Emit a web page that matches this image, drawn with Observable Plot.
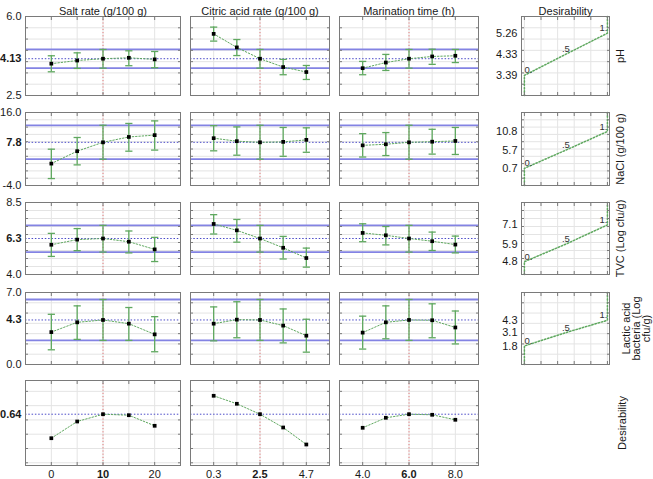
<!DOCTYPE html>
<html><head><meta charset="utf-8">
<script src="https://cdn.jsdelivr.net/npm/d3@7"></script>
<script src="https://cdn.jsdelivr.net/npm/@observablehq/plot@0.6"></script>
<style>
body{margin:0;background:#fff;}
#chart{position:relative;width:653px;height:479px;overflow:hidden;}
#chart svg{position:absolute;max-width:none;overflow:visible;}
</style></head><body><div id="chart"></div>
<script>
// ---------- data ----------
const factors = ["Salt rate (g/100 g)", "Citric acid rate (g/100 g)", "Marination time (h)"];
const desirabilityTitle = "Desirability";
const saltLevels = [0, 5, 10, 15, 20];
const citricLevels = [0.3, 1.4, 2.5, 3.6, 4.7];
const timeLevels = [4, 5, 6, 7, 8];
const factorTickLabels = [["0", "10", "20"], ["0.3", "2.5", "4.7"], ["4.0", "6.0", "8.0"]];
const responses = ["pH", "NaCl (g/100 g)", "TVC (Log cfu/g)", "Lactic acid\nbacteria (Log\ncfu/g)", "Desirability"];
const predicted = [4.13, 7.83, 6.25, 4.33, 0.64];
const predictedLabels = ["4.13", "7.8", "6.3", "4.3", "0.64"];
const ciLow = [3.71, 3.2, 5.40, 2.34];
const ciHigh = [4.54, 12.5, 7.07, 6.32];
const yDomains = [[2.5, 6.0], [-4, 16], [4, 8.5], [0, 7], [0.281, 0.876]];
const yEdgeLabels = [["2.5", "6.0"], ["-4.0", "16.0"], ["4.0", "8.5"], ["0.0", "7.0"]];
const yGridStep = [0.5, 2, 0.5, 1, 0.1];

// pH
const phMean = [[3.91, 4.05, 4.13, 4.17, 4.10], [5.23, 4.63, 4.13, 3.76, 3.54], [3.71, 3.96, 4.13, 4.23, 4.26]];
const phLow  = [[3.55, 3.70, 3.71, 3.82, 3.73], [4.91, 4.27, 3.71, 3.42, 3.21], [3.42, 3.61, 3.71, 3.88, 3.96]];
const phHigh = [[4.26, 4.39, 4.54, 4.48, 4.45], [5.53, 4.98, 4.54, 4.10, 3.83], [4.01, 4.32, 4.54, 4.55, 4.54]];
// NaCl
const naclMean = [[2.0, 5.4, 7.83, 9.3, 9.8], [8.96, 8.14, 7.83, 7.95, 8.5], [7.0, 7.3, 7.83, 8.0, 8.2]];
const naclLow  = [[-2.1, 1.65, 3.2, 5.4, 5.7], [5.5, 4.3, 3.2, 4.0, 5.1], [3.8, 4.2, 3.2, 4.6, 4.5]];
const naclHigh = [[5.95, 9.15, 12.5, 13.0, 13.7], [12.4, 12.05, 12.5, 11.9, 11.8], [10.2, 10.5, 12.5, 11.4, 11.9]];
// TVC
const tvcMean = [[5.86, 6.18, 6.25, 6.05, 5.57], [7.16, 6.76, 6.25, 5.67, 5.03], [6.60, 6.45, 6.25, 6.08, 5.87]];
const tvcLow  = [[5.13, 5.49, 5.40, 5.35, 4.81], [6.53, 6.02, 5.40, 4.97, 4.46], [6.05, 5.85, 5.40, 5.50, 5.35]];
const tvcHigh = [[6.57, 6.87, 7.07, 6.72, 6.32], [7.74, 7.44, 7.07, 6.38, 5.65], [7.17, 7.00, 7.07, 6.65, 6.40]];
// Lactic acid bacteria
const labMean = [[3.15, 4.10, 4.33, 3.97, 2.93], [3.97, 4.36, 4.33, 3.78, 2.80], [3.10, 4.10, 4.33, 4.30, 3.60]];
const labLow  = [[1.43, 2.44, 2.34, 2.34, 1.24], [2.30, 2.60, 2.34, 2.10, 1.20], [1.50, 2.50, 2.34, 2.60, 2.00]];
const labHigh = [[4.88, 5.70, 6.32, 5.54, 4.65], [5.60, 6.10, 6.32, 5.40, 4.40], [4.70, 5.70, 6.32, 5.90, 5.20]];
// Overall desirability
const desirability = [[0.472, 0.589, 0.64, 0.633, 0.559], [0.769, 0.713, 0.64, 0.547, 0.428], [0.545, 0.615, 0.64, 0.636, 0.601]];

// desirability functions (response value at d = 0, .5, 1)
const desLevels = [0, 0.5, 1];
const desLevelLabels = ["0.", ".5", "1."];
const desZero = [3.39, 0.7, 4.8, 1.8];
const desHalf = [4.33, 5.7, 5.9, 3.1];
const desOne  = [5.26, 10.8, 7.1, 4.3];
const desValueLabels = [["3.39", "4.33", "5.26"], ["0.7", "5.7", "10.8"], ["4.8", "5.9", "7.1"], ["1.8", "3.1", "4.3"]];

// ---------- layout / style ----------
const levels = [saltLevels, citricLevels, timeLevels];
const means = [phMean, naclMean, tvcMean, labMean, desirability];
const lows = [phLow, naclLow, tvcLow, labLow];
const highs = [phHigh, naclHigh, tvcHigh, labHigh];
const colX = [[25, 180], [190, 329], [339, 478], [521, 609]];
const rowY = [[16, 95], [112, 185], [202, 274], [292, 364], [380, 465]];
const xDomains = [[-5, 25], [-0.8, 5.8], [3, 9], [-0.035, 1.025]];
const rightLabelDx = [11, 11, 11, 27, 13];
const FONT = "'Liberation Sans', Arial, sans-serif";
const GRID = "#e4e4e4", FRAME = "#7a7a7a", BLUE = "#8383e3", BLUED = "#4b4bc8", RED = "#e37b7b", GREEN = "#5fa85f", TXT = "#1a1a1a";
const M = 40;

const chart = document.getElementById("chart");

function yTicks(r) {
  const [a, b] = yDomains[r];
  const s = yGridStep[r];
  return d3.range(Math.ceil(a / s - 1e-9) * s, b + 1e-9, s);
}

const capSymbol = {draw(ctx, size) { const w = Math.sqrt(size / Math.PI); ctx.moveTo(-w, 0); ctx.lineTo(w, 0); }};

function place(svg, c, r) {
  svg.style.left = (colX[c][0] - M) + "px";
  svg.style.top = (rowY[r][0] - M) + "px";
  chart.appendChild(svg);
}

function innerTicks(xt, yt) {
  const o = {tickSize: -3, tickFormat: () => "", label: null, stroke: FRAME};
  return [
    Plot.axisX({...o, anchor: "top", ticks: xt}),
    Plot.axisX({...o, anchor: "bottom", ticks: xt}),
    Plot.axisY({...o, anchor: "left", ticks: yt}),
    Plot.axisY({...o, anchor: "right", ticks: yt})
  ];
}

function rightLabel(r) {
  return Plot.text([responses[r]], {frameAnchor: "right", textAnchor: "middle", lineAnchor: "middle", dx: rightLabelDx[r],
    rotate: -90, fontSize: 11, lineHeight: 0.92, fill: TXT});
}

function mainPanel(r, c) {
  const lv = levels[c];
  const data = lv.map((x, i) => ({x, m: means[r][c][i], lo: r < 4 ? lows[r][c][i] : null, hi: r < 4 ? highs[r][c][i] : null}));
  const yt = yTicks(r);
  const marks = [
    Plot.gridY({ticks: yt, stroke: GRID, strokeOpacity: 1}),
    Plot.gridX({ticks: lv, stroke: GRID, strokeOpacity: 1}),
    Plot.ruleX([lv[2]], {stroke: RED, strokeDasharray: "1.2,2"})
  ];
  if (r < 4) marks.push(Plot.ruleY([ciLow[r], ciHigh[r]], {stroke: BLUE, strokeWidth: 1.8}));
  marks.push(Plot.ruleY([predicted[r]], {stroke: BLUED, strokeDasharray: "1.5,1.8"}));
  marks.push(Plot.line(data, {x: "x", y: "m", stroke: GREEN, strokeDasharray: "1.5,1.8", strokeWidth: 1}));
  if (r < 4) {
    marks.push(Plot.ruleX(data, {x: "x", y1: "lo", y2: "hi", stroke: GREEN, strokeWidth: 1.3}));
    marks.push(Plot.dot(data, {x: "x", y: "lo", symbol: capSymbol, r: 3.6, stroke: GREEN, fill: "none", strokeWidth: 1.3}));
    marks.push(Plot.dot(data, {x: "x", y: "hi", symbol: capSymbol, r: 3.6, stroke: GREEN, fill: "none", strokeWidth: 1.3}));
  }
  marks.push(Plot.dot(data, {x: "x", y: "m", symbol: "square", r: 2.1, fill: "#000", stroke: "none"}));
  marks.push(Plot.frame({stroke: FRAME, strokeWidth: 1}));
  marks.push(...innerTicks(lv, yt));
  if (c === 0) {
    if (r < 4) marks.push(Plot.axisY({anchor: "left", ticks: yDomains[r], tickSize: 0, tickPadding: 4, label: null,
      tickFormat: (d) => yEdgeLabels[r][d === yDomains[r][0] ? 0 : 1], fill: TXT, fontSize: 11}));
    marks.push(Plot.axisY({anchor: "left", ticks: [predicted[r]], tickSize: 0, tickPadding: 4, label: null,
      tickFormat: () => predictedLabels[r], fill: TXT, fontSize: 11, fontWeight: "bold"}));
  }
  if (r === 0) marks.push(Plot.text([factors[c]], {frameAnchor: "top", dy: -9, fontSize: 11, fill: TXT}));
  if (r === 4) {
    marks.push(Plot.axisX({anchor: "bottom", ticks: [lv[0], lv[4]], tickSize: 0, tickPadding: 5, label: null,
      tickFormat: (d) => factorTickLabels[c][d === lv[0] ? 0 : 2], fill: TXT, fontSize: 11}));
    marks.push(Plot.axisX({anchor: "bottom", ticks: [lv[2]], tickSize: 0, tickPadding: 5, label: null,
      tickFormat: () => factorTickLabels[c][1], fill: TXT, fontSize: 11, fontWeight: "bold"}));
  }
  const svg = Plot.plot({
    width: colX[c][1] - colX[c][0] + 2 * M, height: rowY[r][1] - rowY[r][0] + 2 * M,
    margin: M,
    x: {domain: xDomains[c], axis: null}, y: {domain: yDomains[r], axis: null},
    style: {background: "transparent", fontFamily: FONT, fontSize: "11px", overflow: "visible"},
    marks
  });
  place(svg, c, r);
}

function desPanel(r) {
  const c = 3;
  const [y0, y1] = yDomains[r];
  const path = [{d: 0, v: y0}, {d: 0, v: desZero[r]}, {d: 0.5, v: desHalf[r]}, {d: 1, v: desOne[r]}, {d: 1, v: y1}];
  const pts = desLevels.map((d, i) => ({d, v: [desZero[r], desHalf[r], desOne[r]][i], t: desLevelLabels[i]}));
  const yt = yTicks(r);
  const xt = d3.range(0, 1.01, 0.2);
  const marks = [
    Plot.gridY({ticks: yt, stroke: GRID, strokeOpacity: 1}),
    Plot.gridX({ticks: xt, stroke: GRID, strokeOpacity: 1}),
    Plot.line(path, {x: "d", y: "v", stroke: GREEN, strokeDasharray: "1.5,1.8"}),
    Plot.text(pts.slice(0, 1), {x: "d", y: "v", text: "t", textAnchor: "start", dx: 0, dy: -5, fontSize: 9.5, fill: "#333"}),
    Plot.text(pts.slice(1, 2), {x: "d", y: "v", text: "t", textAnchor: "middle", dy: -5, fontSize: 9.5, fill: "#333"}),
    Plot.text(pts.slice(2, 3), {x: "d", y: "v", text: "t", textAnchor: "end", dx: 0, dy: -5, fontSize: 9.5, fill: "#333"}),
    Plot.frame({stroke: FRAME}),
    ...innerTicks(xt, yt),
    Plot.axisY({anchor: "left", ticks: [desZero[r], desHalf[r], desOne[r]], tickSize: 0, tickPadding: 4, label: null,
      tickFormat: (d) => desValueLabels[r][[desZero[r], desHalf[r], desOne[r]].indexOf(d)], fill: TXT, fontSize: 11}),
    rightLabel(r)
  ];
  if (r === 0) marks.push(Plot.text([desirabilityTitle], {frameAnchor: "top", dy: -9, fontSize: 11, fill: TXT}));
  const svg = Plot.plot({
    width: colX[c][1] - colX[c][0] + 2 * M, height: rowY[r][1] - rowY[r][0] + 2 * M,
    margin: M,
    x: {domain: xDomains[c], axis: null}, y: {domain: yDomains[r], axis: null},
    style: {background: "transparent", fontFamily: FONT, fontSize: "11px", overflow: "visible"},
    marks
  });
  place(svg, c, r);
}

function labelOnly(r) {
  const c = 3;
  const svg = Plot.plot({
    width: colX[c][1] - colX[c][0] + 2 * M, height: rowY[r][1] - rowY[r][0] + 2 * M,
    margin: M,
    x: {domain: xDomains[c], axis: null}, y: {domain: yDomains[r], axis: null},
    style: {background: "transparent", fontFamily: FONT, fontSize: "11px", overflow: "visible"},
    marks: [rightLabel(r)]
  });
  place(svg, c, r);
}

for (let r = 0; r < 5; r++) {
  for (let c = 0; c < 3; c++) mainPanel(r, c);
  if (r < 4) desPanel(r); else labelOnly(r);
}
</script></body></html>
